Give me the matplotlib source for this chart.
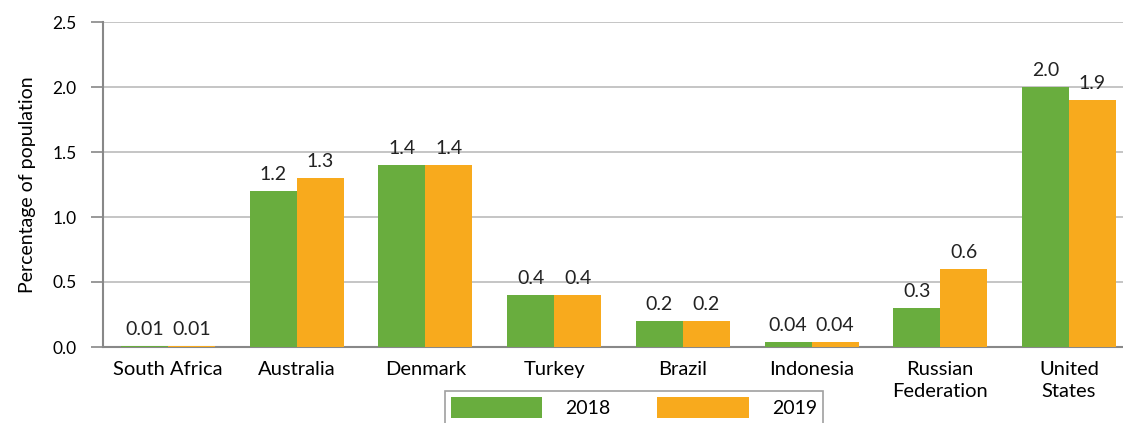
import numpy as np
import matplotlib
matplotlib.use('Agg')
import matplotlib.pyplot as plt

plt.rcParams['font.family'] = ['Lato', 'DejaVu Sans']

countries = ['South Africa', 'Australia', 'Denmark', 'Turkey', 'Brazil',
             'Indonesia', 'Russian\nFederation', 'United\nStates']
vals_2018 = [0.01, 1.2, 1.4, 0.4, 0.2, 0.04, 0.3, 2.0]
vals_2019 = [0.01, 1.3, 1.4, 0.4, 0.2, 0.04, 0.6, 1.9]
labels_2018 = ['0.01', '1.2', '1.4', '0.4', '0.2', '0.04', '0.3', '2.0']
labels_2019 = ['0.01', '1.3', '1.4', '0.4', '0.2', '0.04', '0.6', '1.9']
yticks = [0.0, 0.5, 1.0, 1.5, 2.0, 2.5]

green = '#69ad3e'
orange = '#f8aa1d'

fig = plt.figure(figsize=(11.23, 4.23), dpi=100)
ax = fig.add_axes([103 / 1123, 1 - 347 / 423, 1 - 103 / 1123, 325 / 423])

x = np.arange(len(countries))
w = 0.365
b1 = ax.bar(x - w / 2, vals_2018, w, color=green, label='2018', zorder=3)
b2 = ax.bar(x + w / 2, vals_2019, w, color=orange, label='2019', zorder=3)

for bars, labs in ((b1, labels_2018), (b2, labels_2019)):
    for rect, lab in zip(bars, labs):
        ax.text(rect.get_x() + rect.get_width() / 2, rect.get_height() + 0.06, lab,
                ha='center', va='bottom', fontsize=14, color='#222222')

ax.set_xlim(-0.505, 7.42)
ax.set_ylim(0, 2.5)
ax.set_yticks(yticks)
ax.set_yticklabels([f'{t:.1f}' for t in yticks], fontsize=12.5)
ax.set_xticks(x)
ax.set_xticklabels(countries, fontsize=14.5, linespacing=1.35)
ax.tick_params(axis='x', length=0, pad=10)
ax.tick_params(axis='y', length=9, color='#888888', width=1.2, pad=10)
ax.yaxis.grid(True, color='#bbbbbb', linewidth=1.2, zorder=0)
for s in ['top', 'right']:
    ax.spines[s].set_visible(False)
for s in ['left', 'bottom']:
    ax.spines[s].set_color('#888888')
    ax.spines[s].set_linewidth(1.5)
ax.set_ylabel('Percentage of population', fontsize=14, labelpad=12)

leg = fig.legend(handles=[b1, b2], labels=['2018', '2019'], loc='upper center',
                 bbox_to_anchor=(634 / 1123, 1 - 391 / 423), ncol=2,
                 borderaxespad=0, fontsize=14, frameon=True, fancybox=False,
                 handlelength=4.7, handleheight=1.3, handletextpad=1.2,
                 columnspacing=2.4, borderpad=0.3)
leg.get_frame().set_edgecolor('#888888')
leg.get_frame().set_linewidth(1.2)

fig.savefig('out.png', dpi=100)
